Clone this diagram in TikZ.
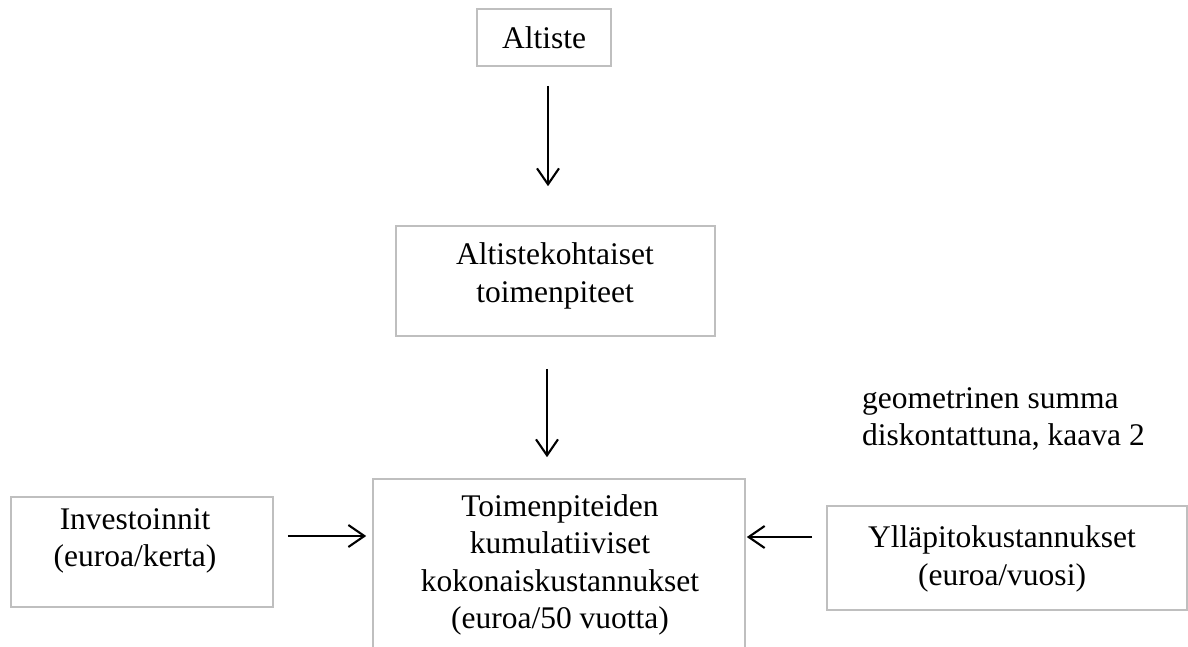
\documentclass[tikz,border=0pt]{standalone}
\usepackage{fontspec}
\setmainfont{Liberation Serif}
\usetikzlibrary{arrows.meta,calc}
\begin{document}
\begin{tikzpicture}[x=1pt,y=-1pt,
  box/.style={draw=black!25,line width=1.6pt,inner sep=0pt},
  txt/.style={align=center,inner sep=0pt,font=\fontsize{31.5}{37.5}\selectfont},
  arr/.style={line width=2.1pt,-{Straight Barb[length=16pt,width=22pt,line width=2.1pt]}}]
\useasboundingbox (0,0) rectangle (1188,646);
\clip (0,0) rectangle (1188,646);
% boxes
\node[box,minimum width=134pt,minimum height=57pt] (n1) at (544,37.5) {};
\node[txt] (t1) at (544,38) {Altiste};
\node[box,minimum width=319pt,minimum height=110pt] (n2) at (555.5,281) {};
\node[txt] (t2) at (555,276) {Altistekohtaiset\\toimenpiteet};
\node[box,minimum width=372pt,minimum height=201pt] (main) at (559,579.5) {};
\node[txt] (t3) at (560,565) {Toimenpiteiden\\kumulatiiviset\\kokonaiskustannukset\\(euroa/50 vuotta)};
\node[box,minimum width=262pt,minimum height=110pt] (inv) at (142,552) {};
\node[txt] (t4) at (135,541) {Investoinnit\\(euroa/kerta)};
\node[box,minimum width=360pt,minimum height=104pt] (yl) at (1007,558) {};
\node[txt] (t5) at (1002,559) {Ylläpitokustannukset\\(euroa/vuosi)};
\node[txt,align=left,anchor=west] (geo) at (862,419) {geometrinen summa\\diskontattuna, kaava 2};
% arrows
\draw[arr] ($(n1.south)+(4,19)$) -- ($(n2.north)+(-7.5,-39)$);
\draw[arr] ($(n2.south)+(-8.5,32)$) -- ($(main.north)+(-12,-21)$);
\draw[arr] ($(inv.east)+(14,-16)$) -- ($(main.west)+(-6,-43.5)$);
\draw[arr] ($(yl.west)+(-14,-21)$) -- ($(main.east)+(1,-42.5)$);
\end{tikzpicture}
\end{document}
